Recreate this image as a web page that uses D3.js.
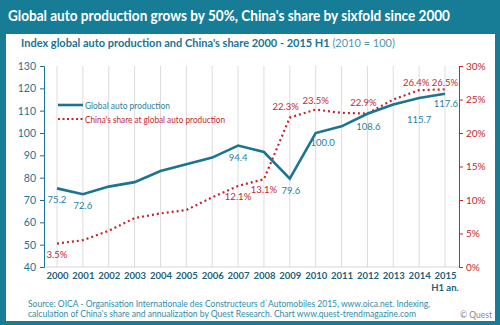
<!DOCTYPE html>
<html>
<head>
<meta charset="utf-8">
<script src="https://cdn.jsdelivr.net/npm/d3@7"></script>
<style>
  body { margin: 0; background: #fff; }
  svg { display: block; font-family: Lato, "Noto Sans", sans-serif; }
</style>
</head>
<body>
<svg id="chart" width="500" height="325"></svg>
<script>
// data
var years = ["2000","2001","2002","2003","2004","2005","2006","2007","2008","2009","2010","2011","2012","2013","2014","2015"];
var production = [75.2, 72.6, 76.0, 78.0, 83.0, 86.0, 89.0, 94.4, 91.5, 79.6, 100.0, 103.0, 108.6, 112.8, 115.7, 117.6];
var chinaShare = [3.5, 4.0, 5.4, 7.3, 8.0, 8.5, 10.4, 12.1, 13.1, 22.3, 23.5, 23.0, 22.9, 25.0, 26.4, 26.5];
var prodLabels = {0: "75.2", 1: "72.6", 7: "94.4", 9: "79.6", 10: "100.0", 12: "108.6", 14: "115.7", 15: "117.6"};
var shareLabels = {0: "3.5%", 7: "12.1%", 8: "13.1%", 9: "22.3%", 10: "23.5%", 12: "22.9%", 14: "26.4%", 15: "26.5%"};
var leftTicks = [40, 50, 60, 70, 80, 90, 100, 110, 120, 130];
var rightTicks = [0, 5, 10, 15, 20, 25, 30];

// label nudges [dx, dy] relative to the point
var prodNudge = {0: [0, 15], 1: [0, 14.5], 7: [0, 15], 9: [1, 15], 10: [7, 12.5], 12: [1, 16.5], 14: [0, 25.5], 15: [1, 13.5]};
var shareNudge = {0: [0, 14], 7: [0, 14.5], 8: [0, 13.5], 9: [-4, -7.5], 10: [0, -5.5], 12: [-4, -7.5], 14: [-3, -4.5], 15: [0, -3.5]};

var teal = "#1b7490";
var red = "#c4262e";

var svg = d3.select("#chart");

// background frame
svg.append("rect").attr("width", 500).attr("height", 325).attr("fill", "#177d97");
svg.append("rect").attr("x", 6).attr("y", 34).attr("width", 489).attr("height", 287).attr("fill", "#fff");

svg.append("text").attr("x", 8).attr("y", 21)
  .attr("fill", "#fff").attr("font-size", 15).attr("font-weight", 700)
  .attr("textLength", 442).attr("lengthAdjust", "spacingAndGlyphs")
  .text("Global auto production grows by 50%, China's share by sixfold since 2000");

var sub = svg.append("text").attr("x", 21).attr("y", 47).attr("font-size", 11);
sub.append("tspan").attr("fill", teal).attr("font-weight", 700)
  .text("Index  global auto production and China's share 2000 - 2015 H1 ");
sub.append("tspan").attr("fill", "#4d97ab").text("(2010 = 100)");

var x = d3.scalePoint().domain(years).range([57, 445]);
var y = d3.scaleLinear().domain([40, 130]).range([267, 66]);
var y2 = d3.scaleLinear().domain([0, 30]).range([267, 66]);

// vertical gridlines
svg.append("g").selectAll("line").data(years).enter().append("line")
  .attr("x1", d => x(d)).attr("x2", d => x(d))
  .attr("y1", 66).attr("y2", 267)
  .attr("stroke", "#dcdcdc").attr("stroke-width", 1);

svg.append("line").attr("x1", 44).attr("x2", 459).attr("y1", 267).attr("y2", 267)
  .attr("stroke", "#d6d6d6");

// left axis
var gl = svg.append("g").attr("transform", "translate(44,0)")
  .call(d3.axisLeft(y).tickValues(leftTicks).tickSize(4).tickPadding(4));
gl.select(".domain").attr("stroke", teal);
gl.selectAll(".tick line").attr("stroke", teal);
gl.selectAll("text").attr("fill", teal).attr("font-size", 10.5).attr("font-family", "Lato");

// right axis
var gr = svg.append("g").attr("transform", "translate(459,0)")
  .call(d3.axisRight(y2).tickValues(rightTicks).tickSize(4).tickPadding(3).tickFormat(d => d + "%"));
gr.select(".domain").attr("stroke", red);
gr.selectAll(".tick line").attr("stroke", red);
gr.selectAll("text").attr("fill", red).attr("font-size", 10).attr("font-family", "Lato");

// bottom axis labels
var gb = svg.append("g").attr("transform", "translate(0,267)")
  .call(d3.axisBottom(x).tickSize(0).tickPadding(5));
gb.select(".domain").remove();
gb.selectAll("text").attr("fill", "#1d5f78").attr("font-size", 9.5).attr("font-weight", 700).attr("font-family", "Lato");
svg.append("text").attr("x", x("2015")).attr("y", 291).attr("text-anchor", "middle")
  .attr("fill", "#1d5f78").attr("font-size", 9.5).attr("font-weight", 700).text("H1 an.");

// China's share dotted line
svg.append("path").datum(chinaShare)
  .attr("d", d3.line().x((d, i) => x(years[i])).y(d => y2(d)))
  .attr("fill", "none").attr("stroke", red).attr("stroke-width", 2.2)
  .attr("stroke-dasharray", "2,3");

// production line
svg.append("path").datum(production)
  .attr("d", d3.line().x((d, i) => x(years[i])).y(d => y(d)))
  .attr("fill", "none").attr("stroke", teal).attr("stroke-width", 2.6);

// value labels
svg.append("g").selectAll("text").data(Object.keys(prodLabels)).enter().append("text")
  .attr("x", i => x(years[i]) + prodNudge[i][0])
  .attr("y", i => y(production[i]) + prodNudge[i][1])
  .attr("text-anchor", "middle").attr("fill", "#2b7f97").attr("font-size", 9.5)
  .text(i => prodLabels[i]);

svg.append("g").selectAll("text").data(Object.keys(shareLabels)).enter().append("text")
  .attr("x", i => x(years[i]) + shareNudge[i][0])
  .attr("y", i => y2(chinaShare[i]) + shareNudge[i][1])
  .attr("text-anchor", "middle").attr("fill", red).attr("font-size", 9.5)
  .text(i => shareLabels[i]);

// legend
svg.append("line").attr("x1", 58).attr("x2", 83).attr("y1", 105).attr("y2", 105)
  .attr("stroke", teal).attr("stroke-width", 2.6);
svg.append("text").attr("x", 85).attr("y", 108.5).attr("fill", "#2b7f97").attr("font-size", 10)
  .attr("textLength", 85).attr("lengthAdjust", "spacingAndGlyphs")
  .text("Global auto production");
svg.append("line").attr("x1", 58).attr("x2", 83).attr("y1", 119).attr("y2", 119)
  .attr("stroke", red).attr("stroke-width", 2).attr("stroke-dasharray", "2,2.5");
svg.append("text").attr("x", 85).attr("y", 122.5).attr("fill", red).attr("font-size", 10)
  .attr("textLength", 140).attr("lengthAdjust", "spacingAndGlyphs")
  .text("China's share at global auto production");

// source
svg.append("text").attr("x", 28).attr("y", 307).attr("fill", "#2e8ca8").attr("font-size", 9.5)
  .attr("textLength", 402).attr("lengthAdjust", "spacingAndGlyphs")
  .text("Source: OICA - Organisation Internationale des Constructeurs d`Automobiles 2015, www.oica.net. Indexing,");
svg.append("text").attr("x", 28).attr("y", 317).attr("fill", "#2e8ca8").attr("font-size", 9.5)
  .attr("textLength", 388).attr("lengthAdjust", "spacingAndGlyphs")
  .text("calculation of China's share and annualization by Quest Research. Chart www.quest-trendmagazine.com");
svg.append("text").attr("x", 492).attr("y", 318).attr("text-anchor", "end").attr("fill", "#888").attr("font-size", 8.5)
  .text("© Quest");
</script>
</body>
</html>
